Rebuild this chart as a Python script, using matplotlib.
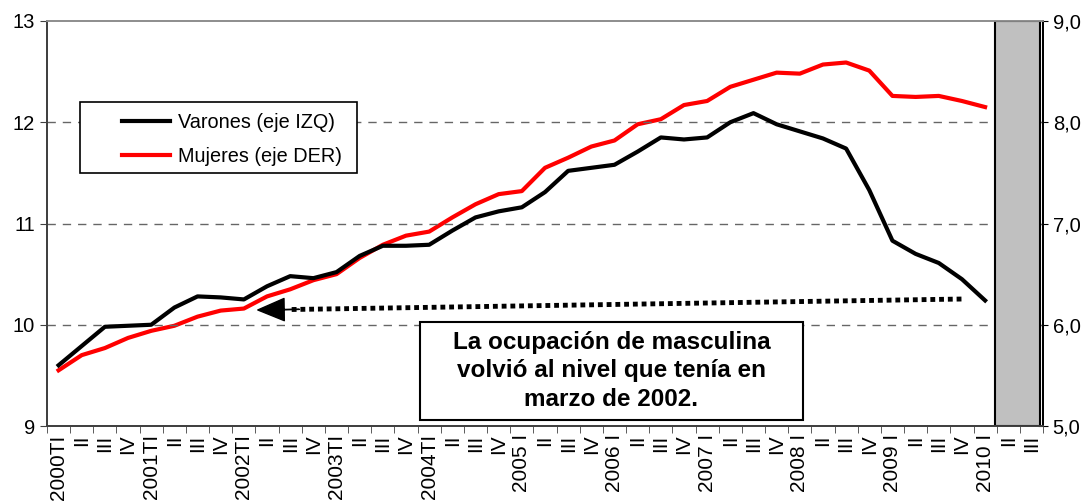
import numpy as np
import matplotlib.pyplot as plt
from matplotlib.patches import Rectangle

plt.rcParams['font.family'] = ['Liberation Sans', 'DejaVu Sans']

# Quarter labels 2000 TI ... 2010 III
labels = ['2000TI', 'II', 'III', 'IV',
          '2001TI', 'II', 'III', 'IV',
          '2002TI', 'II', 'III', 'IV',
          '2003TI', 'II', 'III', 'IV',
          '2004TI', 'II', 'III', 'IV',
          '2005 I', 'II', 'III', 'IV',
          '2006 I', 'II', 'III', 'IV',
          '2007 I', 'II', 'III', 'IV',
          '2008 I', 'II', 'III', 'IV',
          '2009 I', 'II', 'III', 'IV',
          '2010 I', 'II', 'III']

# Ocupados varones (millones, eje izquierdo)
varones = [9.60, 9.79, 9.98, 9.99, 10.00, 10.17, 10.28, 10.27,
           10.25, 10.38, 10.48, 10.46, 10.52, 10.68, 10.78, 10.78,
           10.79, 10.93, 11.06, 11.12, 11.16, 11.31, 11.52, 11.55,
           11.58, 11.71, 11.85, 11.83, 11.85, 12.00, 12.09, 11.98,
           11.91, 11.84, 11.74, 11.33, 10.83, 10.70, 10.61, 10.45,
           10.24]

# Ocupadas mujeres (millones, eje derecho)
mujeres = [5.55, 5.70, 5.77, 5.87, 5.94, 5.99, 6.08, 6.14,
           6.16, 6.28, 6.35, 6.44, 6.50, 6.66, 6.79, 6.88,
           6.92, 7.06, 7.19, 7.29, 7.32, 7.55, 7.65, 7.76,
           7.82, 7.98, 8.03, 8.17, 8.21, 8.35, 8.42, 8.49,
           8.48, 8.57, 8.59, 8.51, 8.26, 8.25, 8.26, 8.21,
           8.15]

x_all = np.arange(len(labels))
x_data = np.arange(len(varones))

fig = plt.figure(figsize=(10.9, 5.04), dpi=100)
ax = fig.add_axes([47 / 1090, 1 - 426 / 504, 996 / 1090, 405 / 504])
ax2 = ax.twinx()

ax.set_xlim(-0.5, len(labels) - 0.5)
ax.set_ylim(9, 13)
ax2.set_ylim(5, 9)

# dashed grid
for g in [10, 11, 12]:
    ax.axhline(g, color='#666666', lw=1, linestyle=(0, (6, 5)), zorder=1)

# shaded forecast area
ax.axvspan(40.43, 42.37, facecolor='#C0C0C0', edgecolor='black', lw=1.5, zorder=2)

l1, = ax.plot(x_data, varones, color='black', lw=3, zorder=4, label='Varones (eje IZQ)')
l2, = ax2.plot(x_data, mujeres, color='#FF0000', lw=3, zorder=3, label='Mujeres (eje DER)')
ax.set_zorder(ax2.get_zorder() + 1)
ax.patch.set_visible(False)

# x ticks
ax.set_xticks(x_all)
ax.set_xticklabels(labels, rotation=90, fontsize=15)
ax.set_xticks(np.arange(-0.5, len(labels)), minor=True)
ax.tick_params(axis='x', which='major', length=0, pad=6)
ax.tick_params(axis='x', which='minor', length=5, direction='out', color='#404040')

ax.set_yticks([9, 10, 11, 12, 13])
ax.tick_params(axis='y', labelsize=14.5, length=5, direction='out', color='#404040')
ax2.set_yticks([5, 6, 7, 8, 9])
ax2.set_yticklabels(['5,0', '6,0', '7,0', '8,0', '9,0'])
ax2.tick_params(axis='y', labelsize=14.5, length=7, direction='inout')

for a in (ax, ax2):
    a.spines['left'].set_color('#404040')
    a.spines['bottom'].set_color('#404040')
    a.spines['top'].set_color('#909090')
    a.spines['right'].set_color('black')
    for s in a.spines.values():
        s.set_linewidth(1.3)

# legend with square frame
ax.add_patch(Rectangle((0.0331, 0.625), 0.278, 0.175, transform=ax.transAxes,
                       facecolor='white', edgecolor='black', lw=1.2, zorder=5))
leg = ax.legend(handles=[l1, l2], loc='center left', bbox_to_anchor=(0.0753, 0.708),
                frameon=False, fontsize=14.3, handlelength=2.4, handletextpad=0.4,
                borderpad=0, borderaxespad=0, labelspacing=0.75)
leg.set_zorder(6)

# dotted arrow back to 2002
ax.plot([38.98, 9.9], [10.254, 10.150], color='black', lw=3.5,
        linestyle=(0, (1, 0.8)), zorder=5)
ax.annotate('', xy=(8.6, 10.146), xytext=(10.4, 10.152),
            arrowprops=dict(facecolor='black', edgecolor='black', width=0.01,
                            headwidth=16, headlength=19, shrink=0), zorder=6)

# text box
ax.add_patch(Rectangle((0.3745, 0.0148), 0.3845, 0.242, transform=ax.transAxes,
                       facecolor='white', edgecolor='black', lw=1.5, zorder=5))
ax.text(0.5667, 0.136, 'La ocupación de masculina\nvolvió al nivel que tenía en\nmarzo de 2002.',
        transform=ax.transAxes, ha='center', va='center', fontsize=17.5,
        fontweight='bold', linespacing=1.3, zorder=6)

fig.savefig('out.png', dpi=100)
